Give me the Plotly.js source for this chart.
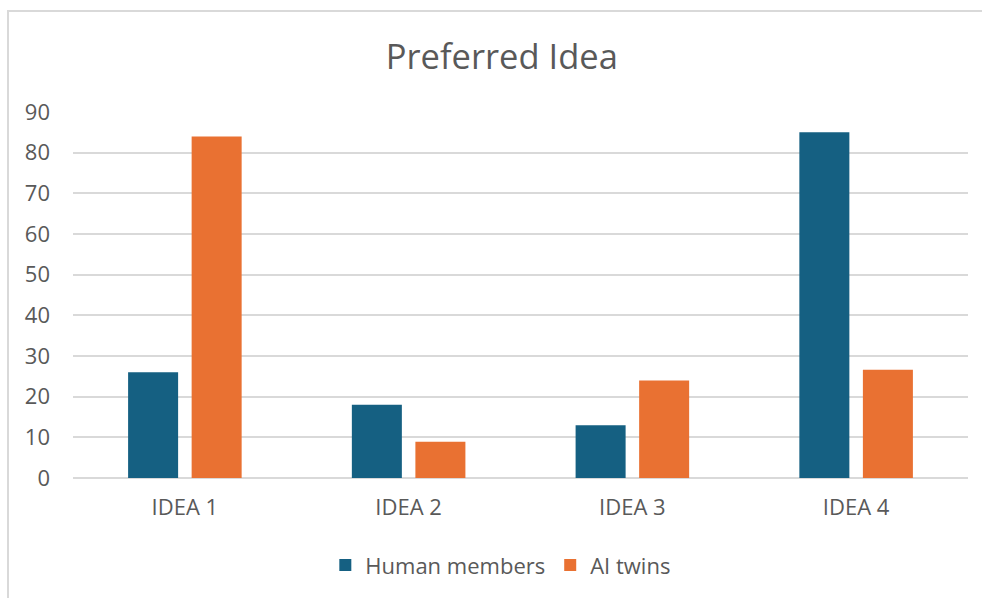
<!DOCTYPE html>
<html>
<head>
<meta charset="utf-8">
<script src="https://cdn.plot.ly/plotly-3.0.1.min.js"></script>
<style>
  html, body { margin: 0; padding: 0; background: #ffffff; }
  #frame {
    position: absolute; left: 0; top: 0; width: 982px; height: 598px;
  }
  #edge {
    position: absolute; left: 7px; top: 10px; width: 975px; height: 588px;
    border-top: 2px solid #d9d9d9; border-left: 2px solid #d9d9d9;
    pointer-events: none;
  }
</style>
</head>
<body>
<div id="frame"></div>
<div id="edge"></div>
<script>
// Preferred idea counts by respondent group
const ideas = ["IDEA 1", "IDEA 2", "IDEA 3", "IDEA 4"];
const humanMembers = [26, 18, 13, 85];
const aiTwins = [84, 8.9, 24, 26.6];
const yTicks = [0, 10, 20, 30, 40, 50, 60, 70, 80, 90];

const textColor = "#595959";
const fontFamily = "'Open Sans', 'DejaVu Sans', sans-serif";

const traces = [
  {
    type: "bar", name: "Human members", x: ideas, y: humanMembers,
    marker: { color: "#156082" }, hoverinfo: "x+y+name"
  },
  {
    type: "bar", name: "AI twins", x: ideas, y: aiTwins,
    marker: { color: "#E97132" }, hoverinfo: "x+y+name"
  }
];

const layout = {
  width: 982, height: 598,
  margin: { l: 73, r: 14, t: 112, b: 120 },
  paper_bgcolor: "rgba(0,0,0,0)",
  plot_bgcolor: "#ffffff",
  font: { family: fontFamily, color: textColor, size: 22 },
  title: {
    text: "Preferred Idea",
    font: { family: fontFamily, size: 34.5, color: textColor },
    x: 0.511, xref: "container", xanchor: "center",
    y: 0.905, yref: "container", yanchor: "middle"
  },
  barmode: "group",
  bargap: 0.432,
  bargroupgap: 0.213,
  xaxis: {
    type: "category",
    showgrid: false, zeroline: false, showline: false,
    ticks: "", ticklabelstandoff: 14,
    tickfont: { size: 22, color: textColor }
  },
  yaxis: {
    range: [0, 90], tickvals: yTicks, ticktext: yTicks.map(String),
    showgrid: true, gridcolor: "#d9d9d9", gridwidth: 1.8,
    zeroline: true, zerolinecolor: "#d9d9d9", zerolinewidth: 1.8,
    showline: false, ticks: "", ticklabelstandoff: 22,
    tickfont: { size: 22, color: textColor }
  },
  showlegend: true,
  legend: {
    orientation: "h",
    xref: "container", x: 0.51, xanchor: "center",
    yref: "container", y: 0.055, yanchor: "middle",
    font: { size: 22, color: textColor },
    itemsizing: "constant"
  }
};

Plotly.newPlot("frame", traces, layout, { displayModeBar: false, staticPlot: true });
</script>
</body>
</html>
